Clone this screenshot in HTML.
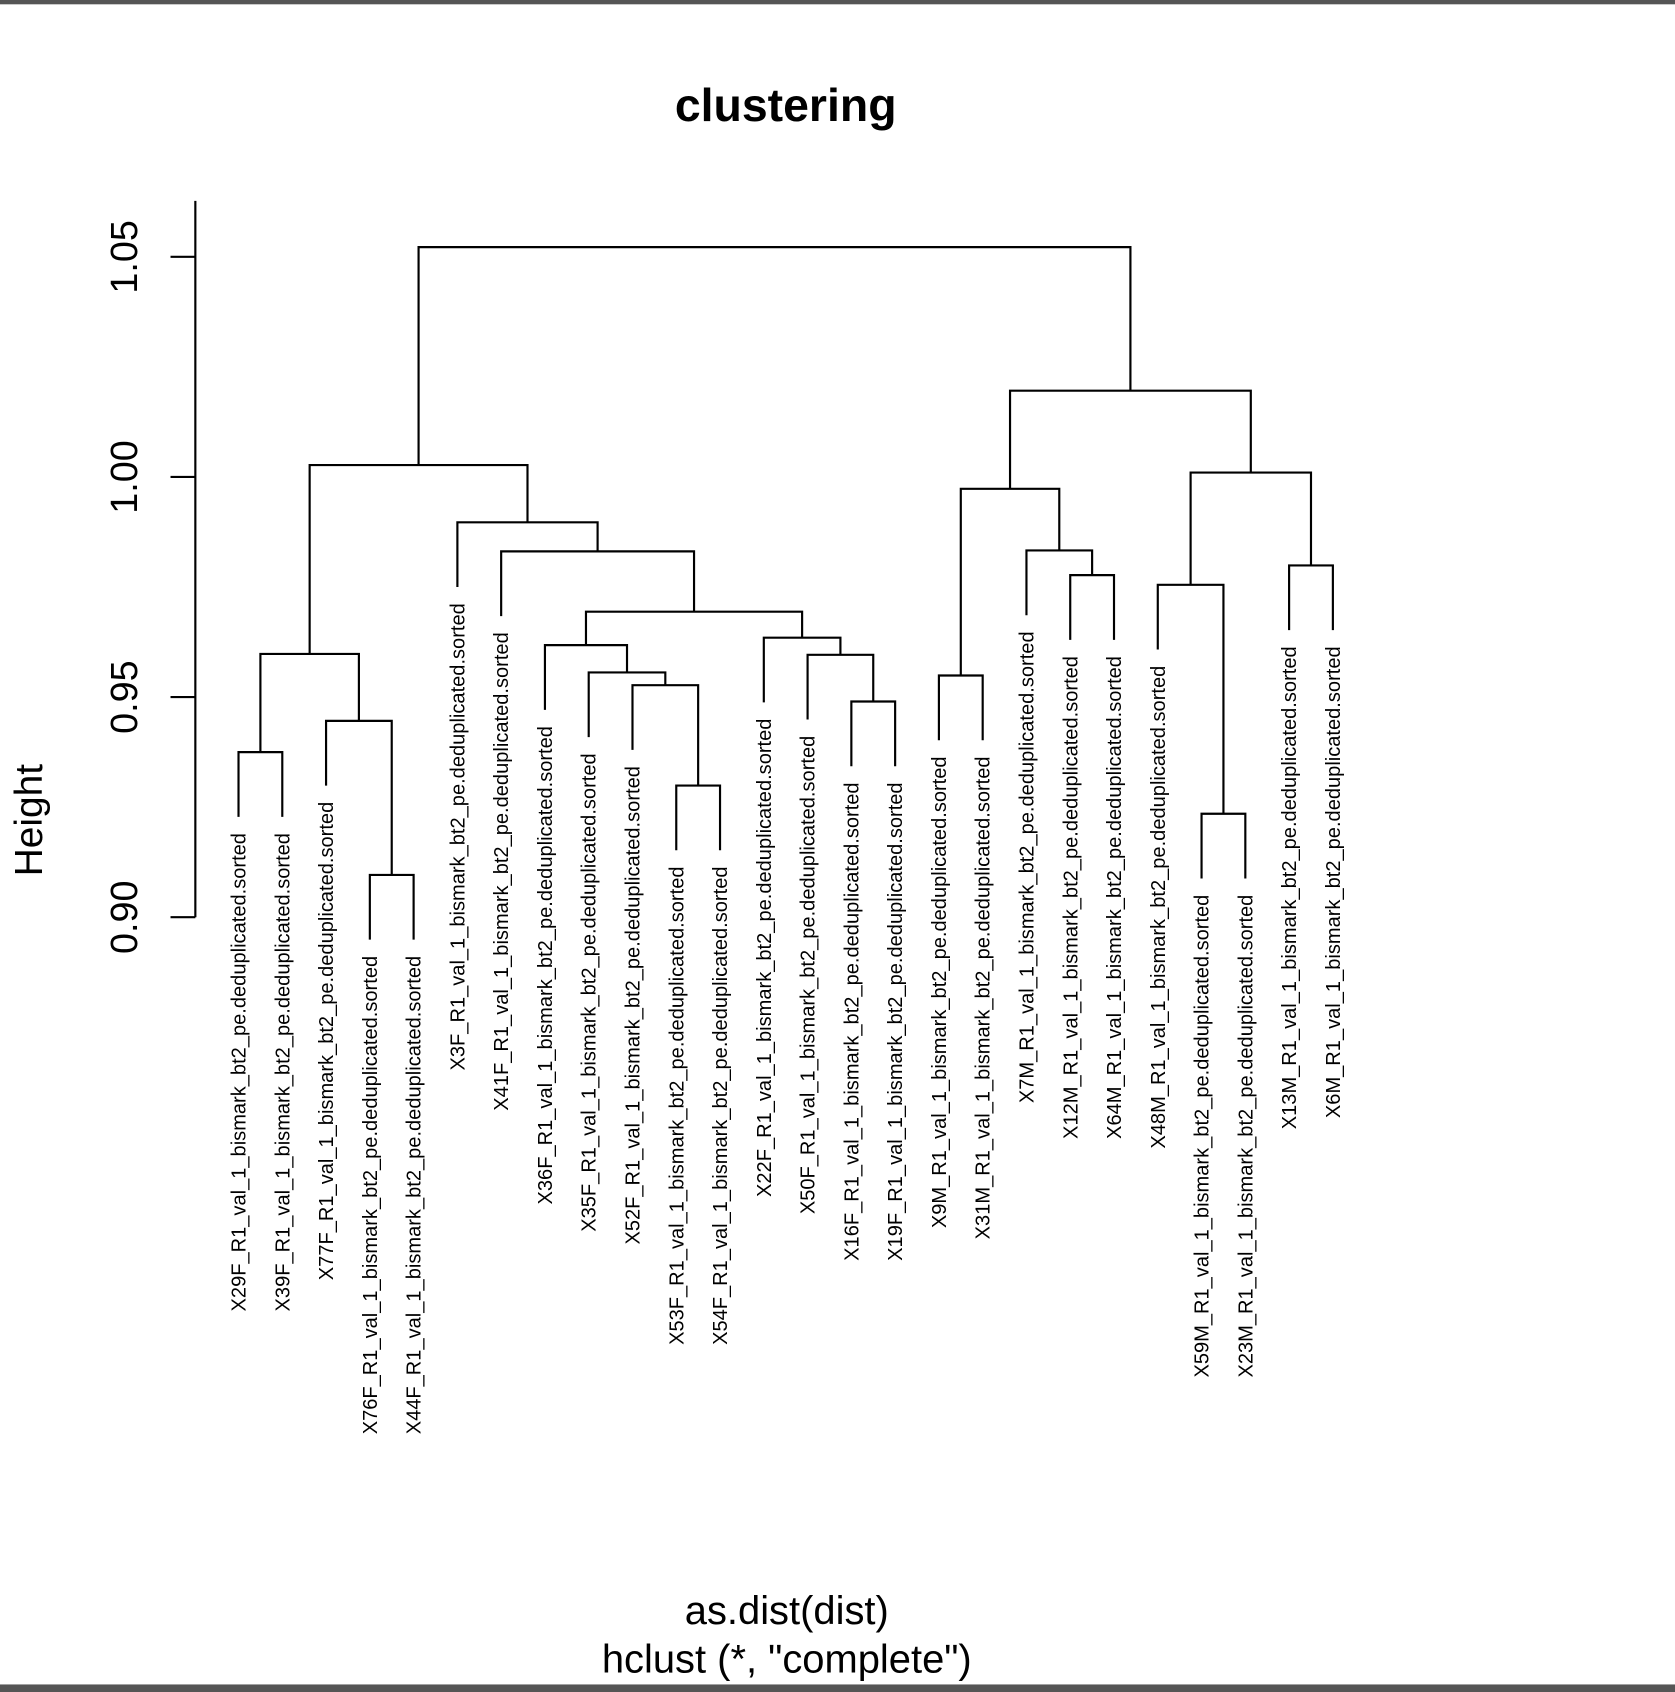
<!DOCTYPE html>
<html><head><meta charset="utf-8"><style>
html,body{margin:0;padding:0;background:#fff;}
svg{display:block;}
text{font-family:"Liberation Sans",Arial,sans-serif;fill:#000;}
</style></head><body>
<svg id="chart" width="1675" height="1692" viewBox="0 0 1552 1568" preserveAspectRatio="none" xmlns="http://www.w3.org/2000/svg">
<rect x="0" y="0" width="1552" height="1568" fill="#fff"/>
<rect x="0" y="0" width="1552" height="4" fill="#555"/>
<rect x="0" y="1561" width="1552" height="7" fill="#555"/>
<text x="728" y="112" font-size="43" font-weight="bold" text-anchor="middle">clustering</text>
<text transform="translate(39,760) rotate(-90)" font-size="36" text-anchor="middle">Height</text>
<text x="729" y="1505" font-size="37" text-anchor="middle">as.dist(dist)</text>
<text x="729" y="1550" font-size="37" text-anchor="middle">hclust (*, "complete")</text>
<g id="axis"></g>
<g id="tree"></g>
<g id="labels"></g>
</svg>
<script>
const leafLabels = ["X29F","X39F","X77F","X76F","X44F","X3F","X41F","X36F","X35F","X52F","X53F","X54F","X22F","X50F","X16F","X19F","X9M","X31M","X7M","X12M","X64M","X48M","X59M","X23M","X13M","X6M"];
const labelSuffix = "_R1_val_1_bismark_bt2_pe.deduplicated.sorted";
const mergeLeft  = ["L10","L3","L0","L22","L16","L2","M2","L9","L8","L7","L14","L13","L12","M9","L6","L5","M6","L19","L18","M4","L21","L24","M20","M19","M16"];
const mergeRight = ["L11","L4","L1","L23","L17","M1","M5","M0","M7","M8","L15","M10","M11","M12","M13","M14","M15","L20","M17","M18","M3","L25","M21","M22","M23"];
const mergeHeights = [0.9299,0.9096,0.9375,0.9235,0.9549,0.9446,0.9598,0.9527,0.9556,0.9618,0.9490,0.9596,0.9635,0.9694,0.9831,0.9897,1.0027,0.9777,0.9833,0.9973,0.9755,0.9799,1.0010,1.0196,1.0522];
const yTicks = [0.90,0.95,1.00,1.05];
const yTickLabels = ["0.90","0.95","1.00","1.05"];
const hang = 0.0147;

const NS="http://www.w3.org/2000/svg";
const yScale = h => 850 - (h-0.90)*4080;
const xScale = i => 221 + i*40.56;
function mk(tag, attrs, parent){const e=document.createElementNS(NS,tag);for(const k in attrs)e.setAttribute(k,attrs[k]);parent.appendChild(e);return e;}
const axis=document.getElementById('axis'), tree=document.getElementById('tree'), labs=document.getElementById('labels');
const ln={stroke:"#000","stroke-width":2,fill:"none"};

let axLine=mk('line',Object.assign({x1:181,x2:181,y1:yScale(1.0627),y2:yScale(0.90)},ln),axis);


yTicks.forEach((t,i)=>{
  const y=yScale(t);
  const tk=mk('line',Object.assign({x1:158,x2:181,y1:y,y2:y},ln),axis);
  
  
  const tx=mk('text',{transform:`translate(127,${y}) rotate(-90)`,"font-size":35,"text-anchor":"middle"},axis);
  tx.textContent=yTickLabels[i];
  
  
});

const mx=[], my=[];
mergeHeights.forEach((h,m)=>{
  const y=yScale(h);
  const kids=[mergeLeft[m],mergeRight[m]].map(r=>{
    const i=parseInt(r.slice(1));
    if(r[0]==='L') return [xScale(i), yScale(h-hang), true, i];
    return [mx[i], my[i], false, i];
  });
  mx[m]=(kids[0][0]+kids[1][0])/2; my[m]=y;
  const p=mk('path',Object.assign({d:`M${kids[0][0]},${kids[0][1]} V${y} H${kids[1][0]} V${kids[1][1]}`},ln),tree);
  
  
  kids.forEach(k=>{
    if(k[2]){
      const t=mk('text',{transform:`translate(${k[0]},${k[1]+15}) rotate(-90)`,dy:"0.35em","font-size":18.6,"text-anchor":"end"},labs);
      t.textContent=leafLabels[k[3]]+labelSuffix;
      
      
    }
  });
});
</script>
</body></html>
